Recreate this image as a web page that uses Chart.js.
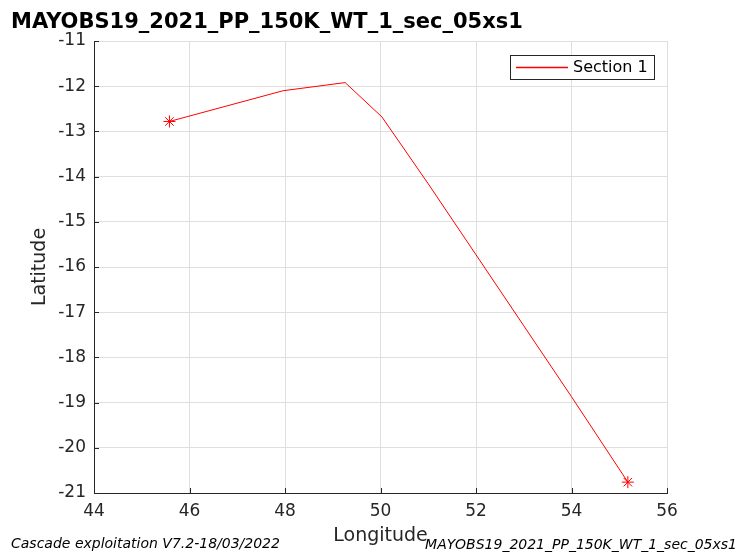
<!DOCTYPE html>
<html>
<head>
<meta charset="utf-8">
<script src="https://cdn.jsdelivr.net/npm/chart.js@4.4.1/dist/chart.umd.min.js"></script>
<style>
  html, body { margin: 0; padding: 0; background: #fff; }
  #wrap { width: 742px; height: 552px; }
</style>
</head>
<body>
<div id="wrap"><canvas id="chart"></canvas></div>
<script>
const chartTitle = "MAYOBS19_2021_PP_150K_WT_1_sec_05xs1";
const footerLeft = "Cascade exploitation V7.2-18/03/2022";
const footerRight = "MAYOBS19_2021_PP_150K_WT_1_sec_05xs1";
const seriesLabel = "Section 1";

const longitudes = [45.58, 47.96, 49.26, 50.03, 51.0, 52.0, 53.0, 54.0, 55.18];
const latitudes = [-12.78, -12.10, -11.92, -12.68, -14.16, -15.73, -17.30, -18.87, -20.76];

const xTicks = [44, 46, 48, 50, 52, 54, 56];
const yTicks = [-21, -20, -19, -18, -17, -16, -15, -14, -13, -12, -11];

const FONT = "'DejaVu Sans', 'Liberation Sans', sans-serif";
const TEXT = "#262626";

// only the first and last point get the asterisk marker
const markerSizes = latitudes.map((_, i) => (i === 0 || i === latitudes.length - 1) ? 6 : 0);

const decorations = {
  id: "decorations",
  afterDraw(chart) {
    const ctx = chart.ctx;
    ctx.save();
    // title
    ctx.fillStyle = "#000";
    ctx.font = "bold 21px " + FONT;
    ctx.textAlign = "left";
    ctx.textBaseline = "alphabetic";
    ctx.fillText(chartTitle, 11, 28);

    // legend box
    const bx = 510.5, by = 55.5, bw = 144, bh = 24;
    ctx.fillStyle = "#fff";
    ctx.fillRect(bx, by, bw, bh);
    ctx.strokeStyle = TEXT;
    ctx.lineWidth = 1;
    ctx.strokeRect(bx, by, bw, bh);
    ctx.strokeStyle = "rgb(255, 0, 0)";
    ctx.lineWidth = 1.5;
    ctx.beginPath();
    ctx.moveTo(516, 67.5);
    ctx.lineTo(568, 67.5);
    ctx.stroke();
    ctx.fillStyle = "#000";
    ctx.font = "16px " + FONT;
    ctx.textBaseline = "middle";
    ctx.fillText(seriesLabel, 573, 68);

    // footers
    ctx.font = "italic 14px " + FONT;
    ctx.fillStyle = "#000";
    ctx.fillText(footerLeft, 11, 544);
    ctx.textAlign = "right";
    ctx.fillText(footerRight, 737, 545);

    // inward tick marks like the original
    const {left, bottom} = chart.chartArea;
    const xs = chart.scales.x, ys = chart.scales.y;
    ctx.strokeStyle = TEXT;
    ctx.lineWidth = 1;
    ctx.beginPath();
    xTicks.forEach(v => {
      const px = Math.round(xs.getPixelForValue(v)) + 0.5;
      ctx.moveTo(px, bottom); ctx.lineTo(px, bottom - 5);
    });
    yTicks.forEach(v => {
      const py = Math.round(ys.getPixelForValue(v)) + 0.5;
      ctx.moveTo(left, py); ctx.lineTo(left + 5, py);
    });
    ctx.stroke();
    ctx.restore();
  }
};

new Chart(document.getElementById("chart"), {
  type: "scatter",
  data: {
    datasets: [{
      label: seriesLabel,
      data: longitudes.map((x, i) => ({x: x, y: latitudes[i]})),
      showLine: true,
      borderColor: "#ff0000",
      backgroundColor: "#ff0000",
      borderWidth: 1,
      pointStyle: "star",
      pointRadius: markerSizes,
      pointBorderColor: "#ff0000",
      pointBorderWidth: 1,
      pointHoverRadius: markerSizes
    }]
  },
  options: {
    responsive: true,
    maintainAspectRatio: false,
    animation: false,
    layout: { padding: { left: 0, right: 75, top: 41, bottom: 0 } },
    plugins: {
      legend: { display: false },
      title: { display: false },
      tooltip: { enabled: false }
    },
    scales: {
      x: {
        type: "linear",
        min: 44,
        max: 56,
        afterFit: (s) => { s.height = 59; },
        afterBuildTicks: (s) => { s.ticks = xTicks.map(v => ({value: v})); },
        ticks: { color: TEXT, font: { family: FONT, size: 17 }, padding: 8 },
        grid: { color: "#dfdfdf", drawTicks: false },
        border: { color: TEXT, width: 1 },
        title: {
          display: true, text: "Longitude", color: TEXT,
          font: { family: FONT, size: 19 }, padding: { top: 0, bottom: 5 }
        }
      },
      y: {
        type: "linear",
        min: -21,
        max: -11,
        afterFit: (s) => { s.width = 94; },
        afterBuildTicks: (s) => { s.ticks = yTicks.map(v => ({value: v})); },
        ticks: { color: TEXT, font: { family: FONT, size: 17 }, padding: 8 },
        grid: { color: "#dfdfdf", drawTicks: false },
        border: { color: TEXT, width: 1 },
        title: {
          display: true, text: "Latitude", color: TEXT,
          font: { family: FONT, size: 19 }, padding: { top: 29, bottom: 0 }
        }
      }
    }
  },
  plugins: [decorations]
});
</script>
</body>
</html>
